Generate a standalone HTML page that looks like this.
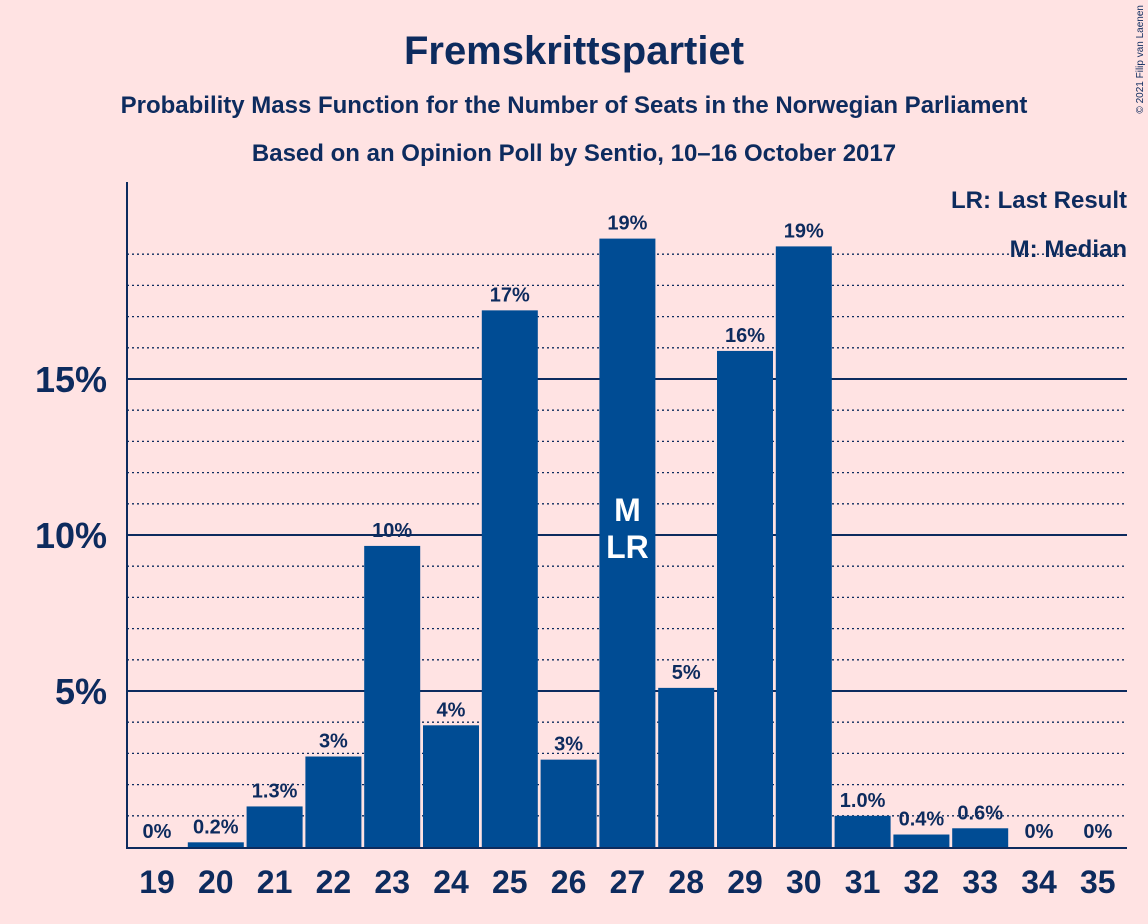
<!DOCTYPE html>
<html><head><meta charset="utf-8"><style>
body{margin:0;background:#ffe3e3;}
svg{display:block;font-family:"Liberation Sans",sans-serif;}
</style></head><body>
<svg id="c" width="1148" height="924">
<text x="574" y="64" text-anchor="middle" font-size="40" font-weight="bold" fill="#0d2b5e">Fremskrittspartiet</text>
<text x="574" y="113" text-anchor="middle" font-size="24" font-weight="bold" fill="#0d2b5e">Probability Mass Function for the Number of Seats in the Norwegian Parliament</text>
<text x="574" y="161" text-anchor="middle" font-size="24" font-weight="bold" fill="#0d2b5e">Based on an Opinion Poll by Sentio, 10–16 October 2017</text>
<text x="1143" y="5" transform="rotate(-90 1143 5)" text-anchor="end" font-size="10" fill="#0d2b5e">© 2021 Filip van Laenen</text>
<g id="grid"></g><g id="bars"></g>
<text x="1127" y="208" text-anchor="end" font-size="24" font-weight="bold" fill="#0d2b5e">LR: Last Result</text>
<text x="1127" y="257" text-anchor="end" font-size="24" font-weight="bold" fill="#0d2b5e">M: Median</text>
</svg>
<script>
const seats=[19,20,21,22,23,24,25,26,27,28,29,30,31,32,33,34,35];
const probs=[0,0.15,1.3,2.9,9.65,3.9,17.2,2.8,19.5,5.1,15.9,19.25,1.0,0.4,0.6,0,0];
const labels=["0%","0.2%","1.3%","3%","10%","4%","17%","3%","19%","5%","16%","19%","1.0%","0.4%","0.6%","0%","0%"];
const yTicks=[5,10,15];
const yTickLabels=["5%","10%","15%"];
const medianSeat=27, lastSeat=27;
const NS="http://www.w3.org/2000/svg";
const y=v=>847-v*31.2;
const x=s=>157+(s-19)*58.8;
function mk(t,a,p){const e=document.createElementNS(NS,t);for(const k in a)e.setAttribute(k,a[k]);p.appendChild(e);return e;}
const g=document.getElementById('grid'),b=document.getElementById('bars');
for(let i=1;i<=19;i++){if(i%5==0)continue;
const l=mk('line',{x1:127,x2:1127,y1:y(i),y2:y(i),stroke:'#0d2b5e','stroke-dasharray':'2,3','stroke-width':1.3},g);

}
yTicks.forEach((v,i)=>{
const l=mk('line',{x1:127,x2:1127,y1:y(v),y2:y(v),stroke:'#0d2b5e','stroke-width':2},g);


const t=mk('text',{x:107,y:y(v)+13,'text-anchor':'end','font-size':36,'font-weight':'bold',fill:'#0d2b5e'},g);t.textContent=yTickLabels[i];

});
const ax=mk('line',{x1:127,x2:127,y1:182,y2:849,stroke:'#0d2b5e','stroke-width':2},g);


const xa=mk('line',{x1:126,x2:1127,y1:848,y2:848,stroke:'#0d2b5e','stroke-width':2},g);


seats.forEach((s,i)=>{
const v=probs[i];
if(v>0){const r=mk('rect',{x:x(s)-28,y:y(v),width:56,height:847-y(v),fill:'#004c94'},b);

}
const t=mk('text',{x:x(s),y:y(v)-9,'text-anchor':'middle','font-size':20,'font-weight':'bold',fill:'#0d2b5e'},b);t.textContent=labels[i];


const xt=mk('text',{x:x(s),y:893,'text-anchor':'middle','font-size':32,'font-weight':'bold',fill:'#0d2b5e'},b);xt.textContent=s;


});
const m=mk('text',{x:x(medianSeat),y:521,'text-anchor':'middle','font-size':32,'font-weight':'bold',fill:'#fff'},b);m.textContent='M';


const lr=mk('text',{x:x(lastSeat),y:558,'text-anchor':'middle','font-size':32,'font-weight':'bold',fill:'#fff'},b);lr.textContent='LR';


</script>
</body></html>
